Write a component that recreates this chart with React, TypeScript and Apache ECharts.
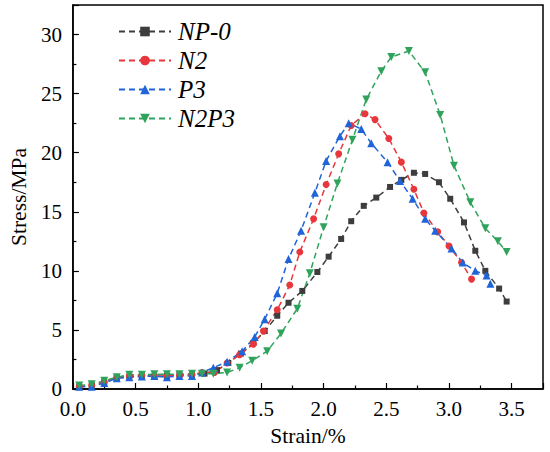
import React, { useEffect, useRef } from "react";
import * as echarts from "echarts";

const seriesNames = ["NP-0", "N2", "P3", "N2P3"];

const np0: [number, number][] = [
  [0.05, 0.2], [0.15, 0.3], [0.25, 0.6], [0.35, 0.95], [0.45, 1.05], [0.55, 1.1], [0.65, 1.05],
  [0.75, 1.1], [0.85, 1.2], [0.95, 1.2], [1.05, 1.3], [1.15, 1.6], [1.24, 2.2], [1.34, 3.0],
  [1.44, 3.9], [1.53, 4.9], [1.63, 6.2], [1.72, 7.3], [1.83, 8.3], [1.95, 9.9], [2.04, 11.2],
  [2.14, 12.7], [2.22, 14.2], [2.32, 15.5], [2.42, 16.2], [2.53, 17.1], [2.62, 17.7], [2.72, 18.3],
  [2.81, 18.2], [2.92, 17.5], [3.01, 16.1], [3.12, 14.1], [3.21, 11.7], [3.29, 10.0], [3.40, 8.5],
  [3.46, 7.4],
];

const n2: [number, number][] = [
  [0.05, 0.2], [0.15, 0.3], [0.25, 0.6], [0.35, 1.0], [0.45, 1.1], [0.55, 1.15], [0.65, 1.1],
  [0.75, 1.1], [0.85, 1.15], [0.95, 1.2], [1.03, 1.4], [1.13, 1.4], [1.23, 2.2], [1.33, 2.9],
  [1.44, 3.8], [1.52, 4.9], [1.63, 6.7], [1.73, 8.8], [1.81, 11.6], [1.92, 14.4], [2.02, 17.3],
  [2.12, 19.9], [2.22, 22.3], [2.33, 23.3], [2.41, 22.8], [2.52, 21.2], [2.62, 19.2], [2.72, 16.9],
  [2.80, 14.9], [2.91, 13.3], [3.0, 12.1], [3.10, 10.7], [3.18, 9.3],
];

const p3: [number, number][] = [
  [0.05, 0.2], [0.15, 0.2], [0.25, 0.5], [0.35, 0.9], [0.45, 1.0], [0.55, 1.05], [0.65, 1.1],
  [0.75, 1.0], [0.85, 1.1], [0.95, 1.1], [1.03, 1.4], [1.12, 1.8], [1.23, 2.3], [1.35, 3.2],
  [1.45, 4.4], [1.53, 5.9], [1.63, 8.1], [1.72, 11.0], [1.82, 13.4], [1.93, 16.6], [2.02, 19.3],
  [2.13, 21.4], [2.20, 22.5], [2.30, 22.0], [2.38, 20.8], [2.51, 19.2], [2.61, 17.6], [2.71, 16.1],
  [2.81, 14.4], [2.89, 13.4], [3.02, 11.9], [3.11, 10.7], [3.21, 10.0], [3.30, 9.6], [3.33, 8.9],
];

const n2p3: [number, number][] = [
  [0.05, 0.3], [0.15, 0.4], [0.25, 0.7], [0.35, 1.0], [0.45, 1.2], [0.55, 1.2], [0.65, 1.25],
  [0.75, 1.25], [0.85, 1.25], [0.95, 1.3], [1.03, 1.3], [1.12, 1.3], [1.23, 1.4], [1.33, 1.8],
  [1.43, 2.4], [1.55, 3.2], [1.66, 4.7], [1.79, 6.8], [1.89, 9.8], [2.0, 13.7], [2.11, 17.4],
  [2.23, 21.1], [2.34, 24.5], [2.46, 26.9], [2.54, 28.1], [2.68, 28.6], [2.81, 26.8], [2.93, 23.2],
  [3.04, 18.9], [3.17, 15.8], [3.29, 13.6], [3.39, 12.5], [3.46, 11.6],
];

const seriesData = [np0, n2, p3, n2p3];
const colors = ["#3d3d3d", "#e8373c", "#1f64d8", "#2fa35c"];
const symbols = ["rect", "circle", "triangle", "path://M0,0 L10,0 L5,9 Z"];
const symbolSizes = [6, 7, 8, 8];

const FONT = "Liberation Serif";

export default function App() {
  const ref = useRef<HTMLDivElement>(null);
  useEffect(() => {
    document.body.style.margin = "0";
    if (!ref.current) return;
    const chart = echarts.init(ref.current, undefined, { renderer: "svg" });
    const labelStyle = { fontFamily: FONT, fontSize: 21, color: "#000" };
    const nameStyle = { fontFamily: FONT, fontSize: 21.5, color: "#000" };
    chart.setOption({
      animation: false,
      backgroundColor: "#fff",
      textStyle: { fontFamily: FONT, fontSize: 20, color: "#000" },
      grid: {
        left: 63, right: 7, top: 5, bottom: 58,
        show: true, borderColor: "#000", borderWidth: 1.5, containLabel: false,
      },
      legend: {
        orient: "vertical",
        left: 113,
        top: 14,
        itemWidth: 52,
        itemHeight: 12,
        itemGap: 4,
        data: seriesNames,
        textStyle: { fontFamily: FONT, fontSize: 25, fontStyle: "italic", color: "#000", padding: [0, 0, 0, 2] },
      },
      xAxis: {
        type: "value",
        min: 0,
        max: 3.75,
        interval: 0.5,
        name: "Strain/%",
        nameLocation: "middle",
        nameGap: 36,
        nameTextStyle: nameStyle,
        axisLine: { show: true, lineStyle: { color: "#000", width: 1.5 } },
        axisTick: { show: true, inside: true, length: 6, lineStyle: { color: "#000", width: 1.2 } },
        minorTick: { show: true, splitNumber: 2, length: 3.5, lineStyle: { color: "#000", width: 1.2 } },
        splitLine: { show: false },
        axisLabel: {
          ...labelStyle,
          margin: 9,
          showMaxLabel: false,
          formatter: (v: number) => v.toFixed(1),
        },
      },
      yAxis: {
        type: "value",
        min: 0,
        max: 32.5,
        interval: 5,
        name: "Stress/MPa",
        nameLocation: "middle",
        nameGap: 35,
        nameTextStyle: nameStyle,
        axisLine: { show: true, lineStyle: { color: "#000", width: 1.5 } },
        axisTick: { show: true, inside: true, length: 6, lineStyle: { color: "#000", width: 1.2 } },
        minorTick: { show: true, splitNumber: 2, length: 3.5, lineStyle: { color: "#000", width: 1.2 } },
        splitLine: { show: false },
        axisLabel: {
          ...labelStyle,
          margin: 11,
          showMaxLabel: false,
        },
      },
      series: seriesNames.map((name, i) => ({
        name,
        type: "line",
        data: seriesData[i],
        symbol: symbols[i],
        symbolSize: symbolSizes[i],
        showAllSymbol: true,
        smooth: false,
        color: colors[i],
        itemStyle: { color: colors[i] },
        lineStyle: { color: colors[i], width: 1.5, type: [6, 4] },
      })),
    });
    return () => chart.dispose();
  }, []);
  return <div ref={ref} style={{ width: 550, height: 452 }} />;
}
